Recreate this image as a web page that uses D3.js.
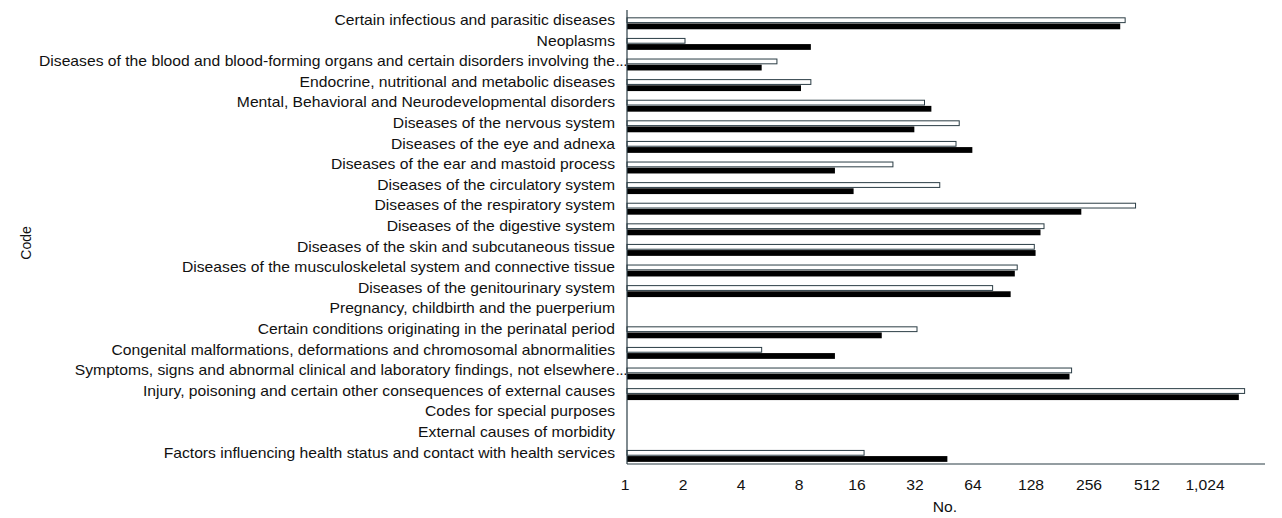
<!DOCTYPE html>
<html>
<head>
<meta charset="utf-8">
<script src="https://cdn.jsdelivr.net/npm/d3@7"></script>
<style>
  body { margin: 0; background: #fff; }
  text { font-family: "Liberation Sans", Arial, sans-serif; fill: #111; }
</style>
</head>
<body>
<svg id="chartSvg" width="1282" height="518"></svg>
<script>
var categories = [
    "Certain infectious and parasitic diseases",
    "Neoplasms",
    "Diseases of the blood and blood-forming organs and certain disorders involving the...",
    "Endocrine, nutritional and metabolic diseases",
    "Mental, Behavioral and Neurodevelopmental disorders",
    "Diseases of the nervous system",
    "Diseases of the eye and adnexa",
    "Diseases of the ear and mastoid process",
    "Diseases of the circulatory system",
    "Diseases of the respiratory system",
    "Diseases of the digestive system",
    "Diseases of the skin and subcutaneous tissue",
    "Diseases of the musculoskeletal system and connective tissue",
    "Diseases of the genitourinary system",
    "Pregnancy, childbirth and the puerperium",
    "Certain conditions originating in the perinatal period",
    "Congenital malformations, deformations and chromosomal abnormalities",
    "Symptoms, signs and abnormal clinical and laboratory findings, not elsewhere...",
    "Injury, poisoning and certain other consequences of external causes",
    "Codes for special purposes",
    "External causes of morbidity",
    "Factors influencing health status and contact with health services"
];
// white (outlined) series, drawn on top in each row
var seriesWhite = [385, 2, 6, 9, 35, 53, 51, 24, 42, 436, 146, 130, 106, 79, 0, 32, 5, 203, 1605, 0, 0, 17];
// black series, drawn below
var seriesBlack = [363, 9, 5, 8, 38, 31, 62, 12, 15, 228, 140, 132, 103, 98, 0, 21, 12, 198, 1498, 0, 0, 46];
var xTicks = [1, 2, 4, 8, 16, 32, 64, 128, 256, 512, 1024];

var svg = d3.select("#chartSvg");
var x0 = 627, x1 = 1265, yTop = 10, yBottom = 464;

var xScale = d3.scaleLog().base(2).domain([1, 2048]).range([x0, x1]);
var yScale = d3.scaleBand().domain(categories).range([13, 466.2])
    .paddingInner(0.42).paddingOuter(0.21);
var subScale = d3.scaleBand().domain(["white", "black"]).range([0, yScale.bandwidth()]).paddingInner(0.06);

// bars
var rows = svg.append("g").selectAll("g").data(categories).enter()
    .append("g")
    .attr("transform", function (d) { return "translate(0," + yScale(d) + ")"; });

rows.append("rect")
    .attr("x", x0)
    .attr("y", subScale("white") + 0.5)
    .attr("width", function (d, i) {
        var v = seriesWhite[i];
        return v > 1 ? xScale(v) - x0 : 0;
    })
    .attr("height", subScale.bandwidth() - 1)
    .style("fill", "#fff")
    .attr("stroke", function (d, i) { return seriesWhite[i] > 1 ? "#2b3d45" : "none"; })
    .attr("stroke-width", 1);

rows.append("rect")
    .attr("x", x0)
    .attr("y", subScale("black"))
    .attr("width", function (d, i) {
        var v = seriesBlack[i];
        return v > 1 ? xScale(v) - x0 : 0;
    })
    .attr("height", subScale.bandwidth())
    .style("fill", "#000");

// category labels (the "..." of shortened labels hangs past the right edge)
var labels = svg.append("g").selectAll("g").data(categories).enter()
    .append("g")
    .attr("transform", function (d) {
        return "translate(615," + (yScale(d) + yScale.bandwidth() / 2 - 2) + ") scale(1.12,1)";
    });
labels.append("text")
    .attr("text-anchor", "end")
    .attr("dominant-baseline", "middle")
    .style("font-size", "14px")
    .text(function (d) { return d.replace(/\.\.\.$/, ""); });
labels.filter(function (d) { return /\.\.\.$/.test(d); })
    .append("text")
    .attr("x", 0.5)
    .attr("dominant-baseline", "middle")
    .style("font-size", "14px")
    .style("letter-spacing", "-0.5px")
    .text("...");

// axes lines
svg.append("line").attr("x1", x0).attr("x2", x0).attr("y1", yTop).attr("y2", yBottom)
    .attr("stroke", "#2b3d45").attr("stroke-width", 1.2);
svg.append("line").attr("x1", x0).attr("x2", x1).attr("y1", yBottom).attr("y2", yBottom)
    .attr("stroke", "#2b3d45").attr("stroke-width", 1.2);

// x tick labels
var fmt = d3.format(",");
svg.append("g").selectAll("text").data(xTicks).enter()
    .append("text")
    .attr("transform", function (d) { return "translate(" + (xScale(d) - 2) + ",486) scale(1.12,1)"; })
    .attr("text-anchor", "middle")
    .attr("dominant-baseline", "middle")
    .style("font-size", "14px")
    .text(function (d) { return fmt(d); });

// axis titles
svg.append("text")
    .attr("transform", "translate(945,508) scale(1.12,1)")
    .attr("text-anchor", "middle")
    .attr("dominant-baseline", "middle")
    .style("font-size", "14px")
    .text("No.");

svg.append("text")
    .attr("transform", "translate(27,243) rotate(-90)")
    .attr("text-anchor", "middle")
    .attr("dominant-baseline", "middle")
    .style("font-size", "14px")
    .text("Code");
</script>
</body>
</html>
